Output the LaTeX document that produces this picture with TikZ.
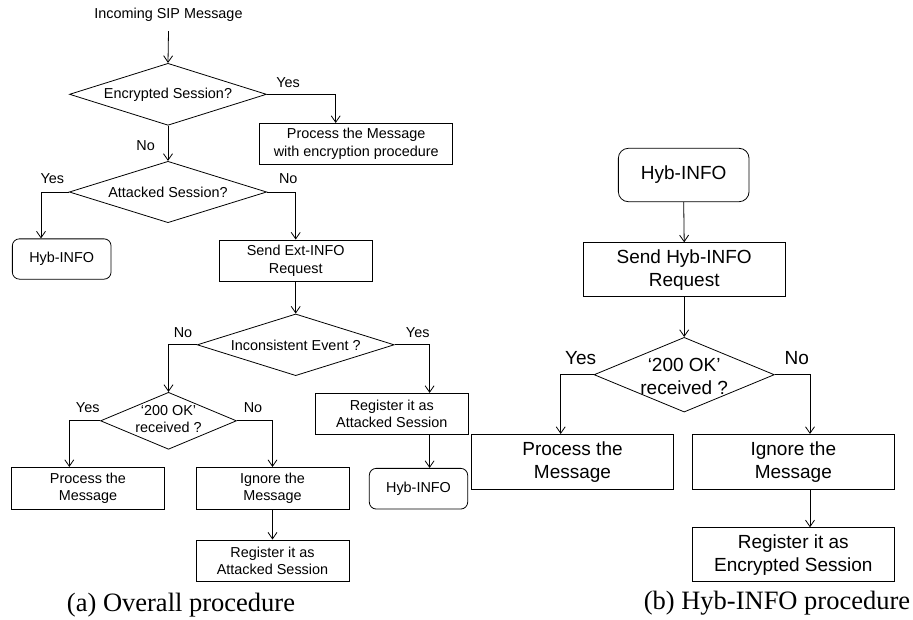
\documentclass[tikz,border=0pt]{standalone}
\usepackage{fontspec}
\setmainfont{Liberation Serif}
\newfontfamily\flowfont{Liberation Sans}
\usetikzlibrary{shapes.geometric,arrows.meta,calc}

\begin{document}
\begin{tikzpicture}[x=1pt,y=-1pt,
  line width=0.8pt,
  small/.style={font=\flowfont\fontsize{14.4}{17.4}\selectfont},
  large/.style={font=\flowfont\fontsize{19}{23}\selectfont},
  box/.style={draw, rectangle, inner sep=0pt, align=center},
  rbox/.style={box, rounded corners=7pt},
  dec/.style={draw, diamond, inner sep=0pt},
  dtext/.style={align=center, inner sep=0pt},
  lbl/.style={inner sep=0pt},
  arr/.style={-{Straight Barb[length=6.5pt,width=9pt]}},
  captext/.style={font=\fontsize{26.5}{30}\selectfont, inner sep=0pt}
]
\useasboundingbox (0,0) rectangle (913,619);

% ---------------- (a) overall procedure ----------------
\begin{scope}[small]
\node[inner xsep=0pt, inner ysep=9pt] (sip) at (168.5,15) {Incoming SIP Message};

\node[dec, minimum width=197pt, minimum height=62pt] (d1) at (168,94.3) {};
\node[dtext] (d1t) at (d1) {Encrypted Session?};

\node[box, minimum width=193pt, minimum height=40.7pt] (p1) at (356.2,143.7)
  {Process the Message\\with encryption procedure};

\node[dec, minimum width=197.4pt, minimum height=61.4pt] (d2) at (168,192) {};
\node[dtext] (d2t) at (d2) {Attacked Session?};

\node[rbox, minimum width=98.7pt, minimum height=40.3pt] (h1) at (61.7,259) {Hyb-INFO};

\node[box, minimum width=153.3pt, minimum height=41.7pt] (s1) at (295.7,260.8)
  {Send Ext-INFO\\Request};

\node[dec, minimum width=197pt, minimum height=61.7pt] (d3) at (295.7,344.8) {};
\node[dtext] (d3t) at ($(d3)+(0,1)$) {Inconsistent Event ?};

\node[dec, minimum width=136pt, minimum height=57pt] (d4) at (168.5,420.8) {};
\node[dtext] (d4t) at ($(d4)+(0,-2)$) {‘200 OK’\\received ?};

\node[box, minimum width=153pt, minimum height=41pt] (r1) at (391.8,413.8)
  {Register it as\\Attacked Session};

\node[rbox, minimum width=98.4pt, minimum height=40.7pt] (h2) at (418.5,488.7) {Hyb-INFO};

\node[box, minimum width=152.7pt, minimum height=41.7pt] (p2) at (88,488.2)
  {Process the\\Message};

\node[box, minimum width=153pt, minimum height=41.7pt] (i1) at (272.5,488.2)
  {Ignore the\\Message};

\node[box, minimum width=153pt, minimum height=41.7pt] (r2) at (272.5,560.8)
  {Register it as\\Attacked Session};

% connectors
\draw[arr] (sip.south) -- (d1.north);
\draw[arr] (d1.east) -| ([xshift=-20.5pt]p1.north);
\draw[arr] (d1.south) -- (d2.north);
\draw[arr] (d2.west) -| ([xshift=-20.7pt]h1.north);
\draw[arr] (d2.east) -| (s1.north);
\draw[arr] (s1.south) -- (d3.north);
\draw[arr] (d3.west) -| (d4.north);
\draw[arr] (d3.east) -| ([xshift=37.8pt]r1.north);
\draw[arr] ([xshift=37.8pt]r1.south) -- ([xshift=37.8pt]r1.south |- h2.north);
\draw[arr] (d4.west) -| ([xshift=-18.7pt]p2.north);
\draw[arr] (d4.east) -| (i1.north);
\draw[arr] (i1.south) -- (r2.north);

% branch labels
\node[lbl] (y1) at (288,82.7) {Yes};
\node[lbl] (n1) at (145.7,145.7) {No};
\node[lbl] (y2) at (52.3,179) {Yes};
\node[lbl] (n2) at (288.3,179) {No};
\node[lbl] (n3) at (183,332.7) {No};
\node[lbl] (y3) at (417.7,332.7) {Yes};
\node[lbl] (y4) at (87.7,407.7) {Yes};
\node[lbl] (n4) at (253,407.7) {No};
\end{scope}

\node[captext] (capa) at (181,605) {(a) Overall procedure};

% ---------------- (b) Hyb-INFO procedure ----------------
\begin{scope}[large]
\node[rbox, rounded corners=10pt, minimum width=130.7pt, minimum height=53.4pt] (h3) at (683.7,175) {Hyb-INFO};

\node[box, minimum width=201.7pt, minimum height=54pt] (s2) at (684.2,269.7)
  {Send Hyb-INFO\\Request};

\node[dec, minimum width=180.3pt, minimum height=74.7pt] (d5) at (684.2,374.7) {};
\node[dtext] (d5t) at ($(d5)+(0,2)$) {‘200 OK’\\received ?};

\node[box, minimum width=201.6pt, minimum height=54.7pt] (p3) at (572.5,461.7)
  {Process the\\Message};

\node[box, minimum width=202pt, minimum height=54.7pt] (i2) at (793.3,461.7)
  {Ignore the\\Message};

\node[box, minimum width=202pt, minimum height=54pt] (r3) at (793.3,554.7)
  {Register it as\\Encrypted Session};

\draw[arr] (h3.south) -- (s2.north);
\draw[arr] (s2.south) -- (d5.north);
\draw[arr] (d5.west) -| ([xshift=-11.8pt]p3.north);
\draw[arr] (d5.east) -| ([xshift=16.7pt]i2.north);
\draw[arr] ([xshift=16.7pt]i2.south) -- ([xshift=16.7pt]r3.north);

\node[lbl] (y5) at (580.7,357.7) {Yes};
\node[lbl] (n5) at (796.7,357.7) {No};
\end{scope}

\node[captext] (capb) at (777,603.3) {(b) Hyb-INFO procedure};
\end{tikzpicture}
\end{document}
